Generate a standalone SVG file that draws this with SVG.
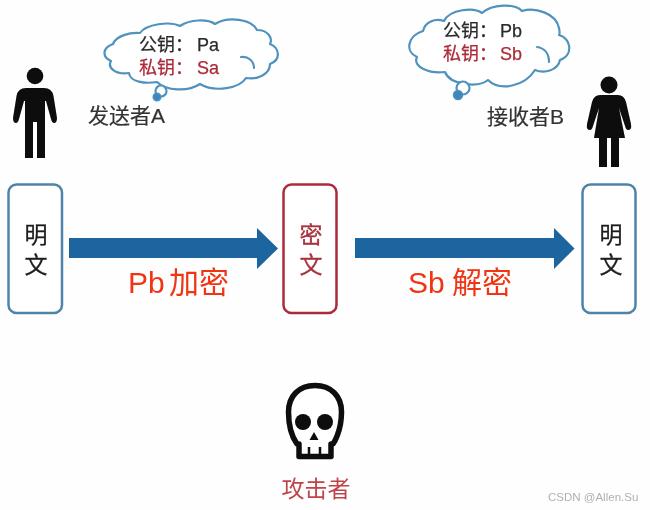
<svg xmlns="http://www.w3.org/2000/svg" width="650" height="510" viewBox="0 0 650 510">
<defs>
<style>
text{font-family:"Liberation Sans","Noto Sans CJK SC",sans-serif}
.box{fill:#fff;stroke-width:2.5}
.blue{stroke:#4d84a8}
.red{stroke:#ab2b3a}
.cloud{fill:#fff;stroke:#4f93bd;stroke-width:2.200;stroke-linejoin:round;stroke-linecap:round}
.curl{fill:none;stroke:#4f93bd;stroke-width:2.200;stroke-linecap:round}
.dot{fill:#3f85bd;stroke:#4f93bd;stroke-width:1.500}
.fig{fill:#0a0a0a}
.big{font-size:23px;fill:#1c1c1c;stroke:#1c1c1c;stroke-width:.3;text-anchor:middle}
.ciph{fill:#a8323c;stroke:#a8323c}
.key{font-size:18px;fill:#2a2a2a;stroke:#2a2a2a;stroke-width:.25}
.priv{font-size:18px;fill:#ab2b3a;stroke:#ab2b3a;stroke-width:.25}
.who{font-size:21px;fill:#333;stroke:#333;stroke-width:.2}
.op{font-size:30px;fill:#f03412}
.arrow{fill:#1f659f}
</style>
<filter id="soft" x="-5%" y="-5%" width="110%" height="110%"><feGaussianBlur stdDeviation="0.45"/></filter>
</defs>
<rect width="650" height="510" fill="#fefefe"/>
<g filter="url(#soft)">
<g id="connectors">
<path class="arrow" d="M69 238H257V228L278 248.500L257 269V258H69Z"/>
<path class="arrow" d="M355 238H554V228L574.500 248.500L554 269V258H355Z"/>
</g>
<g id="sender-a">
<circle class="fig" cx="35" cy="76" r="8.300"/>
<path class="fig" d="M26 88H44Q52 88 53.500 96L57 118Q57 123 54 123Q52 123 51 119L46 101H45V158H37V122H33V158H25V101H24L19 119Q18 123 16 123Q13 123 13 118L16.500 96Q18 88 26 88Z"/>
<text class="who" x="88" y="123">发送者A</text>
</g>
<g id="cloud-a">
<path class="cloud" d="M113 44C116 36 130 32 140 33C146 24 170 21 180 26C190 19 208 19 215 24C228 16 252 19 257 30C268 30 273 38 270 44C280 48 281 60 270 64C270 74 258 80 246 78C240 88 215 93 200 84C188 92 166 91 157 82C145 84 130 82 129 73C116 75 107 68 111 61C102 57 102 48 113 44Z"/>
<path class="curl" d="M241 57C248 56 254 61 254 68"/>
<circle class="cloud" cx="161" cy="91" r="5.500"/>
<circle class="dot" cx="157" cy="97" r="3.800"/>
<text class="key" x="139" y="51">公钥：</text><text class="key" x="197" y="51">Pa</text>
<text class="priv" x="139" y="73.500">私钥：</text><text class="priv" x="197" y="73.500">Sa</text>
</g>
<g id="receiver-b">
<circle class="fig" cx="609" cy="85" r="8.500"/>
<path class="fig" d="M600 95H618Q624 95 626 102L631 124Q632 130 628 130Q626 130 625 126L619 108L625 138H619V167H611V138H607V167H599V138H594L599 108L593 126Q592 130 590 130Q586 130 587 124L592 102Q594 95 600 95Z"/>
<text class="who" x="487" y="124">接收者B</text>
</g>
<g id="cloud-b">
<path class="cloud" d="M423 31C425 22 435 18 444 21C450 9 474 7 482 13C492 4 515 3 522 11C535 7 556 13 559 28C560 33 560 34 559 35C571 38 574 55 560 60C558 70 545 74 535 70C525 86 500 92 488 80C478 88 450 85 445 72C430 74 412 67 417 57C405 52 407 36 423 31Z"/>
<path class="curl" d="M537 47C544 48 549 53 549 62"/>
<circle class="cloud" cx="463" cy="88" r="6.500"/>
<circle class="dot" cx="458" cy="95" r="4.500"/>
<text class="key" x="443" y="37">公钥：</text><text class="key" x="500" y="37">Pb</text>
<text class="priv" x="443" y="60">私钥：</text><text class="priv" x="500" y="60">Sb</text>
</g>
<g id="plain-left">
<rect class="box blue" x="8.500" y="184.500" width="53.500" height="128.500" rx="8"/>
<text class="big" x="36" y="243">明</text>
<text class="big" x="36" y="273">文</text>
</g>
<g id="cipher">
<rect class="box red" x="283.500" y="184.500" width="53" height="128.500" rx="8"/>
<text class="big ciph" x="311" y="243">密</text>
<text class="big ciph" x="311" y="273">文</text>
</g>
<g id="plain-right">
<rect class="box blue" x="582.500" y="184.500" width="53" height="128.500" rx="8"/>
<text class="big" x="611" y="243">明</text>
<text class="big" x="611" y="273">文</text>
</g>
<g id="encrypt-label"><text class="op" x="128" y="293">Pb</text><text class="op" x="169" y="293">加密</text></g>
<g id="decrypt-label"><text class="op" x="408" y="293">Sb</text><text class="op" x="452" y="293">解密</text></g>
<g id="attacker">
<path d="M299 456.500V444H297Q288.500 432 288.500 412C288.500 396 299 385.500 315 385.500C331 385.500 341.500 396 341.500 412C341.500 432 333 444 333 444H331V456.500Z" fill="#fff" stroke="#0a0a0a" stroke-width="5.500" stroke-linejoin="round"/>
<path d="M309 447V456M320 447V456" fill="none" stroke="#0a0a0a" stroke-width="2.500"/>
<circle class="fig" cx="303" cy="422" r="8"/>
<circle class="fig" cx="325" cy="422" r="8"/>
<path class="fig" d="M314 432L318.500 440H309.500Z"/>
<text x="316" y="497" text-anchor="middle" style="font-size:23px;fill:#c0444a">攻击者</text>
</g>
<text x="548" y="501" style="font-size:11.500px;fill:#b0b0b0">CSDN @Allen.Su</text>
</g>
</svg>
